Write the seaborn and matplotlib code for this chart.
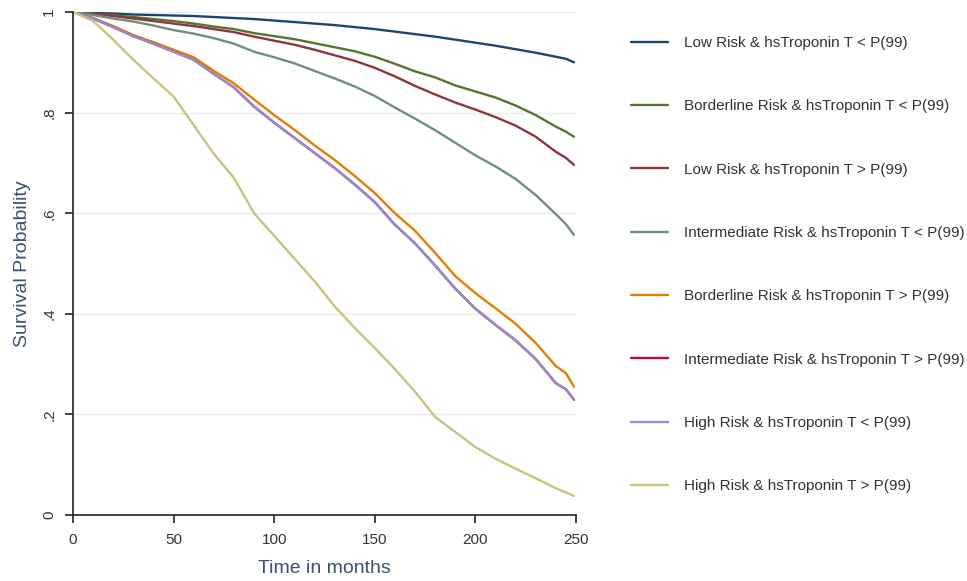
import pandas as pd
import matplotlib
matplotlib.use("Agg")
import matplotlib.pyplot as plt
import seaborn as sns

# time grid (months) and survival values
months = [0, 10, 20, 30, 40, 50, 60, 70, 80, 90, 100, 110, 120, 130, 140,
          150, 160, 170, 180, 190, 200, 210, 220, 230, 240, 245, 249]

low_lt = [1, .998, .997, .995, .994, .993, .992, .990, .988, .986, .983, .980, .977, .974,
          .970, .966, .961, .956, .951, .945, .939, .933, .926, .919, .911, .907, .900]
border_lt = [1, .997, .994, .990, .986, .982, .977, .971, .966, .958, .952, .946, .938, .930,
             .922, .911, .897, .882, .870, .854, .842, .830, .814, .795, .772, .762, .752]
low_gt = [1, .996, .992, .987, .982, .977, .972, .966, .960, .951, .943, .935, .925, .914,
          .903, .889, .872, .853, .836, .820, .806, .791, .774, .752, .722, .710, .696]
inter_lt = [1, .994, .987, .981, .973, .964, .957, .948, .937, .921, .910, .898, .883, .868,
            .852, .833, .810, .788, .765, .740, .715, .693, .668, .636, .598, .578, .557]
border_gt = [1, .988, .972, .954, .940, .925, .910, .883, .858, .826, .795, .766, .735, .706,
             .674, .640, .600, .565, .521, .475, .441, .411, .380, .342, .296, .282, .255]
inter_gt = [1, .987, .970, .952, .937, .921, .905, .877, .850, .812, .780, .750, .720, .690,
            .657, .622, .577, .540, .496, .450, .410, .378, .347, .310, .262, .250, .229]
high_lt = [1, .987, .970, .952, .937, .921, .905, .877, .850, .812, .780, .750, .720, .690,
           .657, .622, .577, .540, .496, .450, .410, .378, .347, .310, .262, .250, .229]
high_gt = [1, .982, .945, .905, .868, .832, .775, .718, .670, .600, .555, .510, .465, .415,
           .372, .332, .290, .245, .195, .165, .135, .112, .092, .073, .053, .045, .038]

groups = [
    "Low Risk & hsTroponin T < P(99)",
    "Borderline Risk & hsTroponin T < P(99)",
    "Low Risk & hsTroponin T > P(99)",
    "Intermediate Risk & hsTroponin T < P(99)",
    "Borderline Risk & hsTroponin T > P(99)",
    "Intermediate Risk & hsTroponin T > P(99)",
    "High Risk & hsTroponin T < P(99)",
    "High Risk & hsTroponin T > P(99)",
]
series = [low_lt, border_lt, low_gt, inter_lt, border_gt, inter_gt, high_lt, high_gt]
colors = ["#1a476f", "#55752f", "#90353b", "#6e8e84",
          "#e37e00", "#c10534", "#938dd2", "#cac27e"]

rows = []
for g, vals in zip(groups, series):
    for t, s in zip(months, vals):
        rows.append({"Time": t, "Survival": s, "Group": g})
df = pd.DataFrame(rows)

sns.set_style("white")
plt.rcParams["font.family"] = ["Liberation Sans", "DejaVu Sans"]

fig = plt.figure(figsize=(9.67, 5.81), dpi=100)
ax = fig.add_axes([73 / 967, 1 - 515 / 581, 503 / 967, 503 / 581])

sns.lineplot(data=df, x="Time", y="Survival", hue="Group", hue_order=groups,
             palette=dict(zip(groups, colors)), linewidth=1.7, ax=ax)

ax.set_xlim(0, 250)
ax.set_ylim(0, 1)
ax.set_xticks([0, 50, 100, 150, 200, 250])
ax.set_yticks([0, .2, .4, .6, .8, 1])
ax.set_yticklabels(["0", ".2", ".4", ".6", ".8", "1"], rotation=90, va="center")
for y in [.2, .4, .6, .8, 1]:
    ax.axhline(y, color="#ececec", lw=1, zorder=0)

for side in ["top", "right"]:
    ax.spines[side].set_visible(False)
for side in ["left", "bottom"]:
    ax.spines[side].set_color("#222222")
    ax.spines[side].set_linewidth(1.2)
ax.tick_params(axis="both", bottom=True, left=True, direction="out", length=6,
               width=1.2, color="#222222", labelsize=11, labelcolor="#333333")
ax.tick_params(axis="x", pad=7)
ax.tick_params(axis="y", pad=6)

ax.set_xlabel("Time in months", fontsize=14, color="#3a5270", labelpad=9)
ax.set_ylabel("Survival Probability", fontsize=14, color="#3a5270", labelpad=8)

handles, labels = ax.get_legend_handles_labels()
ax.legend(handles, labels, loc="upper left", bbox_to_anchor=(631 / 967, 1 - 36 / 581),
          bbox_transform=fig.transFigure, frameon=False, fontsize=11,
          handlelength=2.4, handletextpad=1.05, labelspacing=3.23, borderaxespad=0,
          borderpad=0, labelcolor="#333333")

fig.savefig("out.png", dpi=100)
